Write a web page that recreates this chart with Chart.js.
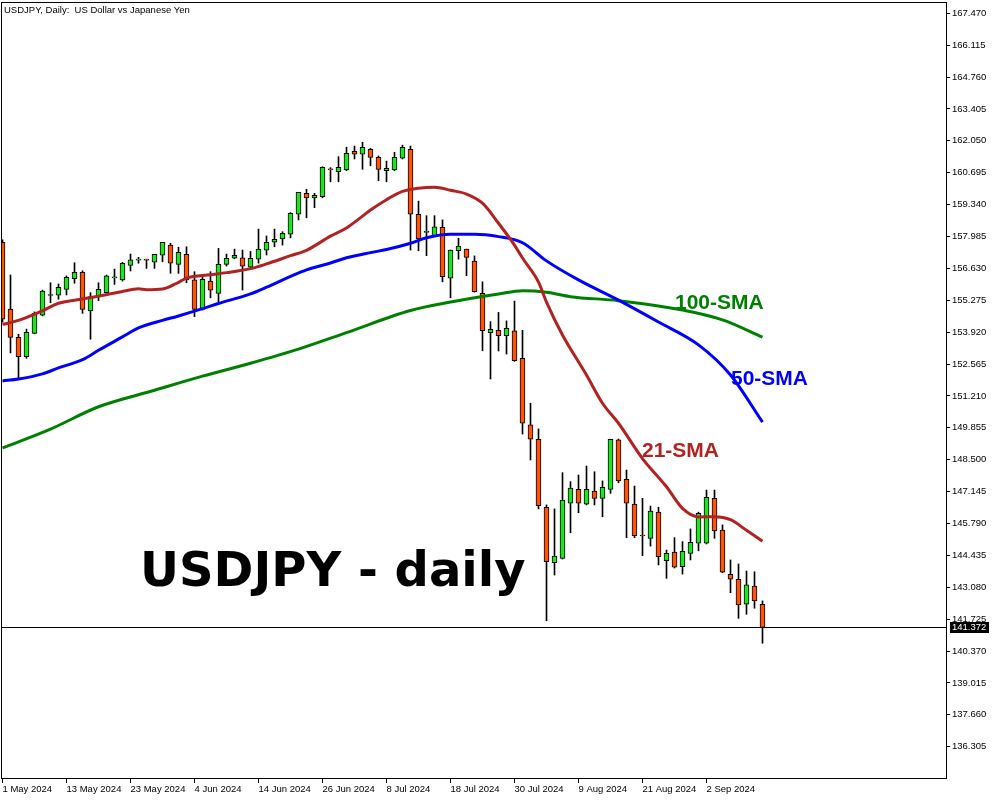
<!DOCTYPE html>
<html>
<head>
<meta charset="utf-8">
<script src="https://cdn.jsdelivr.net/npm/chart.js@4.4.1/dist/chart.umd.min.js"></script>
<style>
  html, body { margin: 0; padding: 0; background: #fff; }
  canvas { display: block; }
</style>
</head>
<body>
<canvas id="chart" width="1000" height="800"></canvas>
<script>
// USDJPY daily candles, 1 May - 11 Sep 2024
const dates = [
  '1 May 2024','2 May 2024','3 May 2024','6 May 2024','7 May 2024','8 May 2024','9 May 2024','10 May 2024',
  '13 May 2024','14 May 2024','15 May 2024','16 May 2024','17 May 2024','20 May 2024','21 May 2024','22 May 2024',
  '23 May 2024','24 May 2024','27 May 2024','28 May 2024','29 May 2024','30 May 2024','31 May 2024','3 Jun 2024',
  '4 Jun 2024','5 Jun 2024','6 Jun 2024','7 Jun 2024','10 Jun 2024','11 Jun 2024','12 Jun 2024','13 Jun 2024',
  '14 Jun 2024','17 Jun 2024','18 Jun 2024','19 Jun 2024','20 Jun 2024','21 Jun 2024','24 Jun 2024','25 Jun 2024',
  '26 Jun 2024','27 Jun 2024','28 Jun 2024','1 Jul 2024','2 Jul 2024','3 Jul 2024','4 Jul 2024','5 Jul 2024',
  '8 Jul 2024','9 Jul 2024','10 Jul 2024','11 Jul 2024','12 Jul 2024','15 Jul 2024','16 Jul 2024','17 Jul 2024',
  '18 Jul 2024','19 Jul 2024','22 Jul 2024','23 Jul 2024','24 Jul 2024','25 Jul 2024','26 Jul 2024','29 Jul 2024',
  '30 Jul 2024','31 Jul 2024','1 Aug 2024','2 Aug 2024','5 Aug 2024','6 Aug 2024','7 Aug 2024','8 Aug 2024',
  '9 Aug 2024','12 Aug 2024','13 Aug 2024','14 Aug 2024','15 Aug 2024','16 Aug 2024','19 Aug 2024','20 Aug 2024',
  '21 Aug 2024','22 Aug 2024','23 Aug 2024','26 Aug 2024','27 Aug 2024','28 Aug 2024','29 Aug 2024','30 Aug 2024',
  '2 Sep 2024','3 Sep 2024','4 Sep 2024','5 Sep 2024','6 Sep 2024','9 Sep 2024','10 Sep 2024','11 Sep 2024'
];

const opens = [
  157.74,154.90,153.70,152.88,153.87,154.64,155.48,155.49,155.74,156.19,
  156.46,154.82,155.43,155.60,156.23,156.14,156.76,156.98,156.99,156.89,
  157.19,157.62,156.80,157.23,156.14,154.89,156.09,155.57,156.80,157.06,
  157.08,156.68,157.02,157.41,157.74,157.88,158.08,158.93,159.82,159.63,
  159.68,160.83,160.74,160.81,161.61,161.48,161.69,161.35,160.78,160.81,
  161.31,161.69,158.93,158.16,158.01,158.38,156.21,157.38,157.45,156.94,
  155.57,153.90,154.00,153.77,153.98,152.81,149.98,149.37,146.48,144.12,
  144.31,146.65,147.24,146.61,147.17,146.86,147.24,149.34,147.67,146.61,
  145.27,145.16,146.27,144.21,144.57,143.95,144.52,144.95,144.95,146.86,
  145.51,143.63,143.42,142.36,143.13,142.36
];
const highs = [
  157.84,156.35,153.83,154.05,154.78,155.71,156.02,155.97,156.31,156.87,
  156.53,155.60,156.02,156.35,156.60,156.89,157.24,157.10,157.02,157.23,
  157.74,157.70,157.53,157.55,156.49,156.31,156.49,157.48,157.24,157.45,
  157.41,157.35,158.30,158.01,158.30,158.19,159.00,159.86,159.99,159.82,
  160.95,160.91,161.38,161.78,161.83,161.99,161.73,161.41,161.19,161.56,
  161.87,161.83,159.49,158.87,158.87,158.69,157.41,157.91,157.45,157.16,
  156.06,154.37,154.76,154.40,155.24,154.00,150.90,149.81,146.58,146.41,
  147.95,147.57,147.85,148.23,147.99,147.60,149.37,149.38,148.06,147.38,
  146.86,146.53,146.48,144.66,145.19,145.02,145.56,146.27,147.21,147.21,
  145.73,144.24,144.07,143.77,143.74,142.50
];
const lows = [
  154.35,153.04,151.96,152.81,153.85,154.61,155.17,155.32,155.50,156.00,
  154.72,153.62,155.26,155.58,155.95,156.09,156.52,156.85,156.63,156.63,
  156.91,156.42,156.42,156.02,154.58,154.86,155.38,155.15,156.73,157.04,
  155.71,156.62,156.85,157.20,157.55,157.62,157.93,158.69,158.78,159.21,
  159.63,160.31,160.31,160.78,161.28,160.84,160.99,160.36,160.31,160.78,
  161.28,157.41,157.38,157.17,157.98,156.06,155.38,157.02,156.32,155.62,
  153.13,151.93,153.12,152.99,152.68,149.59,148.49,146.41,141.66,143.60,
  144.28,145.40,146.25,146.58,146.58,146.08,147.07,147.52,145.19,145.19,
  144.42,144.83,144.03,143.46,143.90,143.64,144.24,144.63,144.92,145.16,
  143.70,142.85,141.76,141.93,142.19,140.70
];
const closes = [
  154.47,153.70,152.88,153.91,154.72,155.67,155.50,155.83,156.25,156.46,
  154.89,155.43,155.74,156.31,156.24,156.85,156.99,156.99,156.98,157.23,
  157.74,156.85,157.31,156.14,154.89,156.17,155.71,156.80,157.06,157.19,
  156.73,157.06,157.45,157.74,157.87,158.12,158.97,159.86,159.63,159.74,
  160.93,160.82,160.93,161.52,161.48,161.78,161.35,160.84,160.88,161.35,
  161.78,158.93,157.88,158.17,158.40,156.28,157.41,157.58,157.10,155.64,
  153.98,154.04,153.77,154.08,152.71,150.05,149.37,146.55,144.17,144.41,
  146.79,147.29,146.65,147.24,146.86,147.33,149.37,147.60,146.65,145.27,
  145.26,146.32,144.38,144.52,143.93,144.61,144.99,146.22,146.90,145.47,
  143.72,143.42,142.33,143.18,142.50,141.372
];

// moving averages, read at bar indexes
const sma21Idx = [0,2,5,7,10,12,15,17,18,20,22,23,26,28,31,33,36,38,41,43,45,46,48,50,52,54,56,58,60,62,64,65,67,68,70,73,75,77,80,83,85,87,89,91,93,95];
const sma21 = [154.25,154.42,154.83,155.15,155.33,155.45,155.65,155.76,155.72,155.75,156.04,156.22,156.36,156.45,156.62,156.82,157.17,157.40,158.00,158.35,158.85,159.11,159.55,159.90,160.04,160.08,159.95,159.79,159.40,158.55,157.62,157.07,156.05,155.20,153.80,152.10,150.90,150.05,148.55,147.35,146.43,146.07,146.08,145.95,145.50,145.04];
const sma50Idx = [0,2,5,7,10,12,15,17,20,22,25,27,31,33,36,38,41,43,46,48,51,53,56,59,62,65,68,72,77,82,87,91,95];
const sma50 = [151.85,151.93,152.15,152.40,152.75,153.15,153.72,154.10,154.42,154.61,154.92,155.14,155.55,155.83,156.29,156.57,156.86,157.08,157.30,157.43,157.70,157.93,158.08,158.08,157.98,157.72,156.95,156.14,155.28,154.35,153.38,152.10,150.10];
const sma100Idx = [0,6,12,19,25,31,37,43,51,56,62,65,68,71,77,85,90,95];
const sma100 = [149.00,149.80,150.75,151.45,152.05,152.60,153.20,153.90,154.84,155.20,155.54,155.68,155.62,155.43,155.26,154.86,154.44,153.71];

// axis ticks
const yTicks = [167.470,166.115,164.760,163.405,162.050,160.695,159.340,157.985,156.630,155.275,153.920,152.565,151.210,149.855,148.500,147.145,145.790,144.435,143.080,141.725,140.370,139.015,137.660,136.305];
const xTickIdx = [0,8,16,24,32,40,48,56,64,72,80,88];

const BULL = '#1ee61e';
const BEAR = '#ff5500';
const lastPrice = closes[closes.length - 1];

const wickData = dates.map((d, i) => ({ x: i, y: [lows[i], highs[i]] }));
const bodyData = dates.map((d, i) => ({ x: i, y: [opens[i], closes[i]] }));
const toPoints = (idx, vals) => idx.map((x, k) => ({ x: x, y: vals[k] }));

const overlay = {
  id: 'overlay',
  afterDatasetsDraw(chart) {
    const { ctx, chartArea: a, scales: { y } } = chart;
    const py = Math.round(y.getPixelForValue(lastPrice)) + 0.5;
    ctx.save();
    ctx.strokeStyle = '#000';
    ctx.lineWidth = 1;
    ctx.beginPath();
    ctx.moveTo(a.left, py);
    ctx.lineTo(a.right, py);
    ctx.stroke();

    ctx.font = 'bold 48px "DejaVu Sans"';
    ctx.fillStyle = '#000';
    ctx.textBaseline = 'alphabetic';
    ctx.fillText('USDJPY - daily', 140, 586);

    ctx.font = 'bold 21px "Liberation Sans"';
    ctx.fillStyle = '#008000';
    ctx.fillText('100-SMA', 675, 309);
    ctx.fillStyle = '#0000ff';
    ctx.fillText('50-SMA', 731, 385);
    ctx.fillStyle = '#b22222';
    ctx.fillText('21-SMA', 642, 457);
    ctx.restore();
  },
  afterDraw(chart) {
    const { ctx, chartArea: a, scales: { y } } = chart;
    ctx.save();
    ctx.strokeStyle = '#000';
    ctx.lineWidth = 1;
    ctx.strokeRect(a.left - 0.5, a.top - 0.5, a.right - a.left + 1, a.bottom - a.top + 1);

    // current price box on the axis
    const py = Math.round(y.getPixelForValue(lastPrice));
    ctx.fillStyle = '#000';
    ctx.fillRect(950, py - 5, 39, 11);
    ctx.fillStyle = '#fff';
    ctx.font = '9.5px "Liberation Sans"';
    ctx.textBaseline = 'middle';
    ctx.fillText(lastPrice.toFixed(3), 952, py + 0.5);

    ctx.fillStyle = '#000';
    ctx.textBaseline = 'alphabetic';
    ctx.fillText('USDJPY, Daily:  US Dollar vs Japanese Yen', 4, 13);
    ctx.restore();
  }
};

new Chart(document.getElementById('chart'), {
  type: 'bar',
  data: {
    datasets: [
      {
        type: 'line', data: toPoints(sma21Idx, sma21), borderColor: '#b22222', borderWidth: 3,
        pointRadius: 0, cubicInterpolationMode: 'monotone', order: 0
      },
      {
        type: 'line', data: toPoints(sma50Idx, sma50), borderColor: '#0000ff', borderWidth: 3,
        pointRadius: 0, cubicInterpolationMode: 'monotone', order: 0
      },
      {
        type: 'line', data: toPoints(sma100Idx, sma100), borderColor: '#008000', borderWidth: 3,
        pointRadius: 0, cubicInterpolationMode: 'monotone', order: 0
      },
      {
        type: 'bar', data: bodyData, grouped: false, barThickness: 5, minBarLength: 1,
        backgroundColor: ctx => closes[ctx.dataIndex] >= opens[ctx.dataIndex] ? BULL : BEAR,
        borderColor: '#000', borderWidth: 1, borderSkipped: false, order: 1
      },
      {
        type: 'bar', data: wickData, grouped: false, barThickness: 1,
        backgroundColor: '#000', borderWidth: 0, order: 2
      }
    ]
  },
  options: {
    responsive: false,
    animation: false,
    devicePixelRatio: 1,
    layout: { padding: { left: 2, top: 3, right: 0, bottom: 0 } },
    plugins: { legend: { display: false }, tooltip: { enabled: false } },
    scales: {
      x: {
        type: 'linear', min: -0.0625, max: 117.9375, offset: false,
        afterBuildTicks: s => { s.ticks = xTickIdx.map(v => ({ value: v })); },
        afterFit: s => { s.height = 22; s.paddingLeft = 0; s.paddingRight = 0; },
        border: { display: false },
        grid: { offset: false, drawOnChartArea: false, drawTicks: true, tickLength: 5, color: '#000' },
        ticks: {
          align: 'start', maxRotation: 0, autoSkip: false, padding: 1, color: '#000',
          font: { family: 'Liberation Sans', size: 9.5 },
          callback: v => dates[v]
        }
      },
      y: {
        type: 'linear', position: 'right', min: 134.975, max: 167.908, beginAtZero: false,
        afterBuildTicks: s => { s.ticks = yTicks.map(v => ({ value: v })); },
        afterFit: s => { s.width = 54; s.paddingTop = 0; s.paddingBottom = 0; },
        border: { display: false },
        grid: { drawOnChartArea: false, drawTicks: true, tickLength: 4, color: '#000' },
        ticks: {
          padding: 2, color: '#000', autoSkip: false,
          font: { family: 'Liberation Sans', size: 9.5 },
          callback: v => v.toFixed(3)
        }
      }
    }
  },
  plugins: [overlay]
});
</script>
</body>
</html>
